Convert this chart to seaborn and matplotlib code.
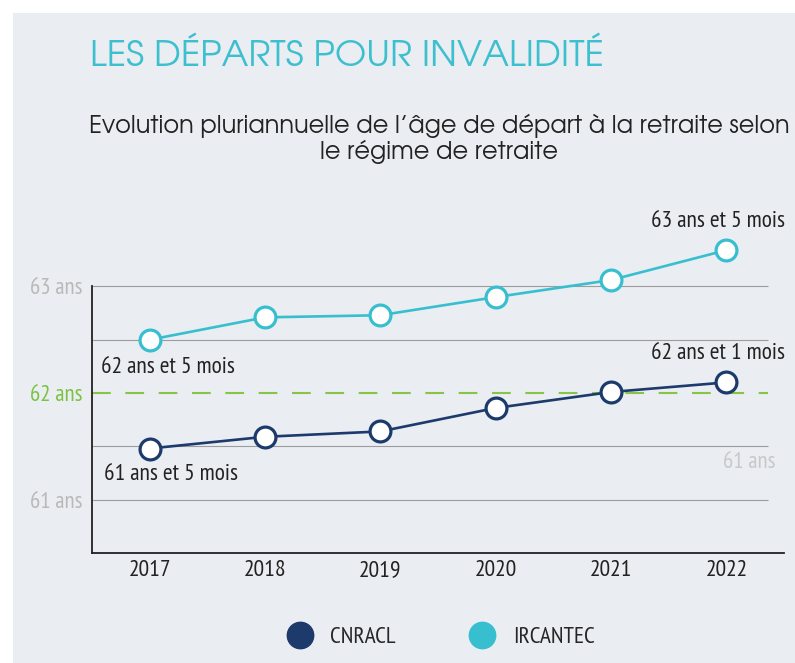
import numpy as np
import pandas as pd
import matplotlib
matplotlib.use("Agg")
import matplotlib.pyplot as plt
from matplotlib.lines import Line2D
from matplotlib.patches import Rectangle
import seaborn as sns

# data (ages in years)
years = [2017, 2018, 2019, 2020, 2021, 2022]
cnracl = [61.48, 61.59, 61.64, 61.86, 62.01, 62.10]
ircantec = [62.50, 62.71, 62.73, 62.90, 63.06, 63.34]
regimes = ["CNRACL", "IRCANTEC"]
colors = {"CNRACL": "#1c3a6b", "IRCANTEC": "#38bfcf"}
ytick_vals = [61, 62, 63]
ytick_labels = ["61 ans", "62 ans", "63 ans"]
ytick_colors = ["#b9b9b9", "#7cc242", "#b9b9b9"]
grid_vals = [61, 61.5, 62.5, 63]
ref_age = 62
notes = [
    ("IRCANTEC", 2022, "63 ans et 5 mois"),
    ("CNRACL", 2022, "62 ans et 1 mois"),
    ("IRCANTEC", 2017, "62 ans et 5 mois"),
    ("CNRACL", 2017, "61 ans et 5 mois"),
]

df = pd.DataFrame({
    "year": years * 2,
    "age": cnracl + ircantec,
    "regime": ["CNRACL"] * len(years) + ["IRCANTEC"] * len(years),
})

NARROW = ["PT Sans Narrow", "DejaVu Sans"]
GOTHIC = ["TeX Gyre Adventor", "DejaVu Sans"]

sns.set_style("white")
plt.rcParams["font.family"] = NARROW

fig = plt.figure(figsize=(7.95, 6.63), dpi=100, facecolor="white")
fig.patches.append(Rectangle((13 / 795, 0), 1, 1 - 13 / 663, transform=fig.transFigure,
                             facecolor="#eaedf2", edgecolor="none", zorder=-10))

ax = fig.add_axes([92 / 795, 1 - 553 / 663, (784 - 92) / 795, (553 - 215) / 663])
ax.set_facecolor("none")

x_end = 2016.5 + (768 - 92) / 115.33
ax.hlines(grid_vals, 2016.5, x_end, color="#9c9c9c", lw=0.8, zorder=1)
ax.plot([2016.5, x_end], [ref_age, ref_age], color="#86c545", lw=1.5,
        dashes=(9, 7), zorder=1)

sns.lineplot(data=df, x="year", y="age", hue="regime", palette=colors,
             marker="o", markersize=15, linewidth=1.9, legend=False, ax=ax, zorder=3)
for line in ax.lines[-2:]:
    line.set_markerfacecolor("white")
    line.set_markeredgecolor(line.get_color())
    line.set_markeredgewidth(2.3)

series = {"CNRACL": dict(zip(years, cnracl)), "IRCANTEC": dict(zip(years, ircantec))}
offsets = {
    ("IRCANTEC", 2022): ((42, 21), "right"),
    ("CNRACL", 2022): ((42, 21), "right"),
    ("IRCANTEC", 2017): ((-35, -20), "left"),
    ("CNRACL", 2017): ((-33, -19), "left"),
}
for reg, yr, txt in notes:
    off, ha = offsets[(reg, yr)]
    ax.annotate(txt, (yr, series[reg][yr]), xytext=off, textcoords="offset points",
                ha=ha, va="center", fontsize=16.8, color="#222222")

ax.text(2016.5 + (749 - 92) / 115.33, 61.352, "61 ans", ha="center", va="center",
        fontsize=16.5, color="#c8c8c8")

ax.set_xlim(2016.5, 2022.5)
ax.set_ylim(60.5, 63.67)
ax.set_xticks(years)
ax.set_xticklabels([str(y) for y in years])
ax.set_xticks(np.arange(2016.5, 2023, 1), minor=True)
ax.tick_params(axis="x", which="major", length=0, pad=5, labelsize=17, labelcolor="#222222")
ax.tick_params(axis="x", which="minor", direction="in", length=8, width=1.2, color="#222222")
ax.set_yticks(ytick_vals)
ax.set_yticklabels(ytick_labels)
ax.set_yticks([61.5, 62.5], minor=True)
ax.tick_params(axis="y", which="both", direction="in", length=6, width=1.4,
               color="#222222", pad=7, labelsize=16.5)
for lbl, c in zip(ax.get_yticklabels(), ytick_colors):
    lbl.set_color(c)
ax.set_xlabel("")
ax.set_ylabel("")

for side in ["top", "right"]:
    ax.spines[side].set_visible(False)
for side in ["left", "bottom"]:
    ax.spines[side].set_color("#222222")
    ax.spines[side].set_linewidth(1.3)
ax.spines["left"].set_bounds(60.5, 63)

fig.text(90 / 795, 1 - 56 / 663, "LES DÉPARTS POUR INVALIDITÉ", color="#3cbfcf",
         fontsize=26, family=GOTHIC, va="center")
fig.text(439 / 795, 1 - 139 / 663,
         "Evolution pluriannuelle de l’âge de départ à la retraite selon\nle régime de retraite",
         ha="center", va="center", fontsize=17.3, color="#222222",
         family=GOTHIC, linespacing=1.12)

handles = [Line2D([], [], marker="o", ls="", markersize=19, markerfacecolor=colors[r],
                  markeredgecolor=colors[r]) for r in regimes]
fig.legend(handles, regimes, loc="center", bbox_to_anchor=(0.548, 1 - 637 / 663), ncol=2,
           frameon=False, fontsize=16.8, handletextpad=0.3, columnspacing=2.7)

fig.savefig("out.png", dpi=100, facecolor=fig.get_facecolor())
